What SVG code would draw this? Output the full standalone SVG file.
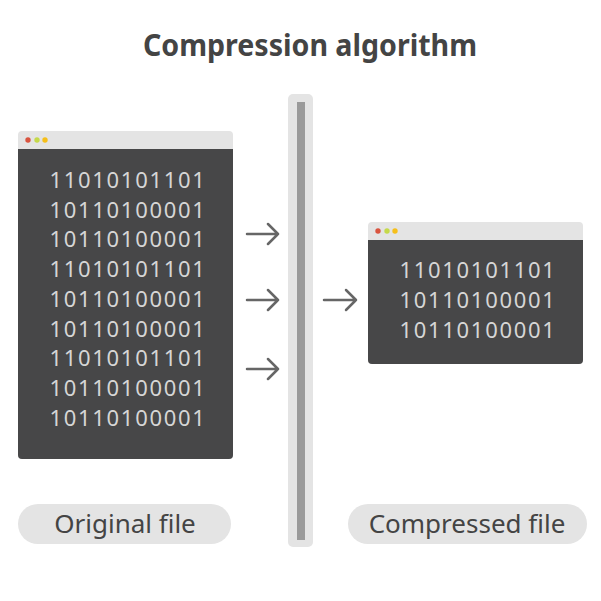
<svg xmlns="http://www.w3.org/2000/svg" width="601" height="601" viewBox="0 0 601 601">
<style>
.bar{fill:#e4e4e4}
.body{fill:#474748}
.bits{font-family:"Noto Sans","Open Sans",sans-serif;font-size:22px;fill:#d6d6d6;text-anchor:middle;letter-spacing:1.7px}
.pill{fill:#e4e4e4}
.lbl{font-family:"Noto Sans","Open Sans",sans-serif;font-size:26px;fill:#444;text-anchor:middle}
.arr{fill:none;stroke:#666;stroke-width:2.5;stroke-linecap:round;stroke-linejoin:round}
</style>
<rect width="601" height="601" fill="#fff"/>
<text x="310" y="56" font-family="'Noto Sans','Open Sans',sans-serif" font-size="30" font-weight="bold" fill="#444" text-anchor="middle" textLength="334" lengthAdjust="spacingAndGlyphs">Compression algorithm</text>
<g id="original">
<rect class="bar" x="18" y="131" width="215" height="328" rx="4"/>
<path class="body" d="M18 149H233V455A4 4 0 0 1 229 459H22A4 4 0 0 1 18 455Z"/>
<circle cx="28" cy="140" r="2.7" fill="#d9543f"/>
<circle cx="37" cy="140" r="2.7" fill="#c5d94a"/>
<circle cx="45" cy="140" r="2.7" fill="#f6bf1a"/>
<text class="bits" x="128" y="188">11010101101</text>
<text class="bits" x="128" y="218">10110100001</text>
<text class="bits" x="128" y="247">10110100001</text>
<text class="bits" x="128" y="277">11010101101</text>
<text class="bits" x="128" y="307">10110100001</text>
<text class="bits" x="128" y="337">10110100001</text>
<text class="bits" x="128" y="366">11010101101</text>
<text class="bits" x="128" y="396">10110100001</text>
<text class="bits" x="128" y="426">10110100001</text>
</g>
<g id="algorithm">
<rect x="288" y="94" width="25" height="453" rx="5" fill="#e4e4e4"/>
<rect x="297" y="102" width="8" height="438" fill="#9a9a9a"/>
</g>
<g id="compressed">
<rect class="bar" x="368" y="222" width="215" height="142" rx="4"/>
<path class="body" d="M368 240H583V360A4 4 0 0 1 579 364H372A4 4 0 0 1 368 360Z"/>
<circle cx="378" cy="231" r="2.7" fill="#d9543f"/>
<circle cx="387" cy="231" r="2.7" fill="#c5d94a"/>
<circle cx="395" cy="231" r="2.7" fill="#f6bf1a"/>
<text class="bits" x="478" y="278">11010101101</text>
<text class="bits" x="478" y="308">10110100001</text>
<text class="bits" x="478" y="338">10110100001</text>
</g>
<g id="connectors">
<path class="arr" d="M247 234H278M268 224L278 234L268 244"/>
<path class="arr" d="M247 300H278M268 290L278 300L268 310"/>
<path class="arr" d="M247 369H278M268 359L278 369L268 379"/>
<path class="arr" d="M324 300H356M346 290L356 300L346 310"/>
</g>
<g id="label-original">
<rect class="pill" x="18" y="504" width="213" height="40" rx="20"/>
<text class="lbl" x="125" y="533">Original file</text>
</g>
<g id="label-compressed">
<rect class="pill" x="348" y="504" width="239" height="40" rx="20"/>
<text class="lbl" x="467" y="533">Compressed file</text>
</g>
</svg>
